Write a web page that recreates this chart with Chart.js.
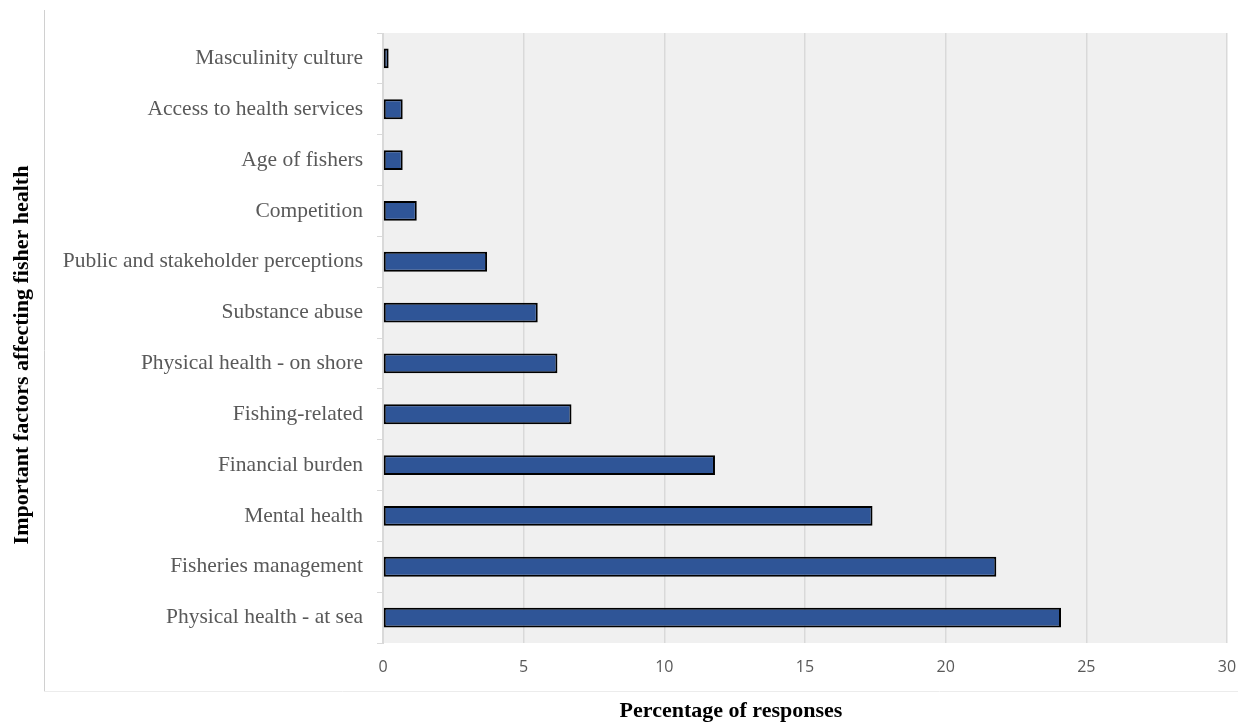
<!DOCTYPE html>
<html>
<head>
<meta charset="utf-8">
<script src="https://cdn.jsdelivr.net/npm/chart.js@4"></script>
<style>
  html, body { margin: 0; padding: 0; background: #ffffff; }
  canvas { display: block; }
</style>
</head>
<body>
<canvas id="factorsChart" width="1238" height="724"></canvas>
<script>
// Categories, top to bottom
const factors = [
    'Masculinity culture',
    'Access to health services',
    'Age of fishers',
    'Competition',
    'Public and stakeholder perceptions',
    'Substance abuse',
    'Physical health - on shore',
    'Fishing-related',
    'Financial burden',
    'Mental health',
    'Fisheries management',
    'Physical health - at sea'
];

// Percentage of responses
const percentages = [0.2, 0.7, 0.7, 1.2, 3.7, 5.5, 6.2, 6.7, 11.8, 17.4, 21.8, 24.1];

const xTicks = [0, 5, 10, 15, 20, 25, 30];

const yTitle = 'Important factors affecting fisher health';
const xTitle = 'Percentage of responses';

// Plot background, outer frame and axis titles
const decorPlugin = {
    id: 'decor',
    beforeDraw(chart) {
        const { ctx, chartArea } = chart;
        ctx.save();
        ctx.fillStyle = '#f0f0f0';
        ctx.fillRect(chartArea.left, chartArea.top,
            chartArea.right - chartArea.left, chartArea.bottom - chartArea.top);
        ctx.restore();
    },
    afterDraw(chart) {
        const { ctx } = chart;
        ctx.save();
        // frame lines
        ctx.strokeStyle = '#d0d0d0';
        ctx.lineWidth = 1;
        ctx.beginPath();
        ctx.moveTo(44.5, 10);
        ctx.lineTo(44.5, 691);
        ctx.stroke();
        ctx.strokeStyle = '#ececec';
        ctx.beginPath();
        ctx.moveTo(44, 691.5);
        ctx.lineTo(1238, 691.5);
        ctx.stroke();

        // titles
        ctx.fillStyle = '#000000';
        ctx.font = 'bold 22px "Liberation Serif", "Times New Roman", serif';
        ctx.textAlign = 'center';
        ctx.textBaseline = 'middle';
        ctx.fillText(xTitle, 731, 711);

        ctx.translate(22, 355);
        ctx.rotate(-Math.PI / 2);
        ctx.fillText(yTitle, 0, 0);
        ctx.restore();
    }
};

new Chart(document.getElementById('factorsChart').getContext('2d'), {
    type: 'bar',
    data: {
        labels: factors,
        datasets: [{
            label: xTitle,
            data: percentages,
            backgroundColor: '#2f5597',
            borderColor: '#000000',
            borderWidth: 2,
            borderSkipped: false,
            categoryPercentage: 1,
            barPercentage: 0.39
        }]
    },
    options: {
        indexAxis: 'y',
        responsive: false,
        animation: false,
        layout: {
            padding: { top: 33, right: 11, bottom: 0, left: 0 }
        },
        plugins: {
            legend: { display: false },
            tooltip: { enabled: false }
        },
        scales: {
            x: {
                min: 0,
                max: 30,
                afterBuildTicks(scale) {
                    scale.ticks = xTicks.map(v => ({ value: v }));
                },
                afterFit(scale) {
                    scale.height = 81;
                    // let the last tick label hang past the plot edge
                    scale.paddingRight = 0;
                },
                grid: {
                    color: '#d9d9d9',
                    lineWidth: 1.5,
                    drawTicks: false
                },
                border: { display: false },
                ticks: {
                    color: '#595959',
                    padding: 15,
                    font: { family: '"Open Sans", "Liberation Sans", sans-serif', size: 16 }
                }
            },
            y: {
                afterFit(scale) {
                    scale.width = 383;
                },
                grid: {
                    offset: true,
                    drawOnChartArea: false,
                    tickLength: 6,
                    color: '#d9d9d9'
                },
                border: { display: true, color: '#d9d9d9', width: 1 },
                ticks: {
                    color: '#595959',
                    padding: 14,
                    font: { family: '"Liberation Serif", "Times New Roman", serif', size: 21.5 }
                }
            }
        }
    },
    plugins: [decorPlugin]
});
</script>
</body>
</html>
